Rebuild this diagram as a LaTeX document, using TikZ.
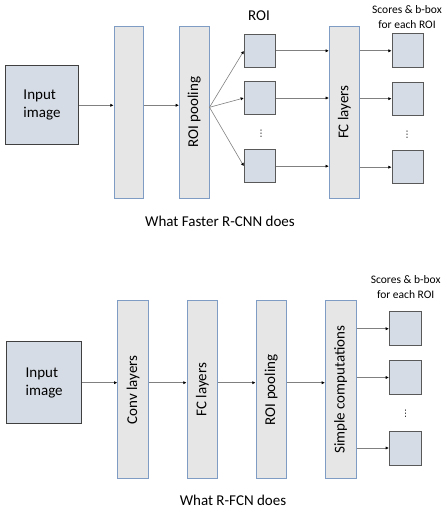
\documentclass[tikz,border=0pt]{standalone}
\usepackage{fontspec}
\setmainfont{Carlito}
\newfontfamily\dejavu{DejaVu Sans}
\usetikzlibrary{arrows.meta}
\definecolor{inpfill}{HTML}{D6DCE5}
\definecolor{inpdraw}{HTML}{404040}
\definecolor{barfill}{HTML}{E7E6E6}
\definecolor{bardraw}{HTML}{7F9DC4}
\definecolor{boxdraw}{HTML}{595959}
\definecolor{linecol}{HTML}{808080}
\tikzset{
  inpbox/.style={draw=inpdraw, line width=1.1pt, fill=inpfill, minimum width=#1, inner sep=0pt, font=\fontsize{15}{18}\selectfont, align=left},
  barbox/.style={draw=bardraw, line width=0.9pt, fill=barfill, inner sep=0pt, rotate=90, font=\fontsize{15}{18}\selectfont},
  smallbox/.style={draw=boxdraw, line width=0.9pt, fill=inpfill, inner sep=0pt},
  conn/.style={draw=linecol, line width=0.6pt, -{Latex[length=3.2pt,width=3.2pt,fill=black,color=black]}},
  lbl/.style={inner sep=0pt, align=center},
  dotlbl/.style={inner sep=0pt, font=\dejavu\fontsize{9}{9}\selectfont},
}
\begin{document}
\begin{tikzpicture}[x=1pt,y=-1pt]
\useasboundingbox (0,0) rectangle (447,510);
% ---------- top: Faster R-CNN ----------
\node[inpbox=72.6pt, minimum height=79.3pt] (inp1) at (42,105.3) {Input\\image};
\node[barbox, minimum width=172.3pt, minimum height=29.3pt] (cnv1) at (128.7,112.2) {};
\node[barbox, minimum width=172.3pt, minimum height=29.7pt] (pool1) at (194.2,112.2) {ROI pooling};
\node[barbox, minimum width=172.3pt, minimum height=30pt] (fc1) at (344.3,112.2) {FC layers};
\node[smallbox, minimum width=31pt, minimum height=33pt] (r1) at (259.8,50.8) {};
\node[smallbox, minimum width=31pt, minimum height=32.6pt] (r2) at (259.8,98) {};
\node[smallbox, minimum width=31pt, minimum height=33pt] (r3) at (259.8,166.2) {};
\node[dotlbl] (rd) at (261,134) {⋮};
\node[smallbox, minimum width=31.3pt, minimum height=33.7pt] (o1) at (407.7,50.8) {};
\node[smallbox, minimum width=31.3pt, minimum height=32.7pt] (o2) at (407.7,98.7) {};
\node[smallbox, minimum width=31.3pt, minimum height=33pt] (o3) at (407.7,167.2) {};
\node[dotlbl] (od) at (407,135) {⋮};
\node[lbl, font=\fontsize{15}{18}\selectfont] (roilbl) at (259,16) {ROI};
\node[lbl, font=\fontsize{11.5}{15.5}\selectfont] (sc1) at (407,17) {Scores \& b-box\\for each ROI};
\node[lbl, font=\fontsize{15}{18}\selectfont] (cap1) at (220,221.7) {What Faster R-CNN does};
\draw[conn] (inp1.east) -- (inp1.east -| cnv1.north);
\draw[conn] (cnv1.south |- inp1.east) -- (inp1.east -| pool1.north);
\coordinate (fo) at (pool1.south |- 0,107.3);
\draw[conn] (fo) -- (r1.west);
\draw[conn] (fo) -- (r2.west);
\draw[conn] (fo) -- (r3.west);
\draw[conn] (r1.east) -- (r1.east -| fc1.north);
\draw[conn] (r2.east) -- (r2.east -| fc1.north);
\draw[conn] (r3.east) -- (r3.east -| fc1.north);
\draw[conn] (fc1.south |- o1.west) -- (o1.west);
\draw[conn] (fc1.south |- o2.west) -- (o2.west);
\draw[conn] (fc1.south |- o3.west) -- (o3.west);
% ---------- bottom: R-FCN ----------
\node[inpbox=75pt, minimum height=81.6pt] (inp2) at (44.2,382.5) {Input\\image};
\node[barbox, minimum width=178pt, minimum height=31pt] (cnv2) at (133.2,389.7) {Conv layers};
\node[barbox, minimum width=178pt, minimum height=30.7pt] (fc2) at (202.3,389.7) {FC layers};
\node[barbox, minimum width=178pt, minimum height=30.7pt] (pool2) at (271.3,389.7) {ROI pooling};
\node[barbox, minimum width=178pt, minimum height=30.7pt] (simp) at (340.7,389.7) {Simple computations};
\node[smallbox, minimum width=31.7pt, minimum height=34pt] (p1) at (405.2,328.7) {};
\node[smallbox, minimum width=31.7pt, minimum height=33.6pt] (p2) at (405.2,377.5) {};
\node[smallbox, minimum width=31.7pt, minimum height=34pt] (p3) at (405.2,448) {};
\node[dotlbl] (pd) at (405.7,413.3) {⋮};
\node[lbl, font=\fontsize{11.5}{15}\selectfont] (sc2) at (405.7,287) {Scores \& b-box\\for each ROI};
\node[lbl, font=\fontsize{15}{18}\selectfont] (cap2) at (233,500) {What R-FCN does};
\coordinate (m2) at (0,382.7);
\draw[conn] (inp2.east |- m2) -- (cnv2.north |- m2);
\draw[conn] (cnv2.south |- m2) -- (fc2.north |- m2);
\draw[conn] (fc2.south |- m2) -- (pool2.north |- m2);
\draw[conn] (pool2.south |- m2) -- (simp.north |- m2);
\draw[conn] (simp.south |- p1.west) -- (p1.west);
\draw[conn] (simp.south |- p2.west) -- (p2.west);
\draw[conn] (simp.south |- p3.west) -- (p3.west);
\end{tikzpicture}
\end{document}
